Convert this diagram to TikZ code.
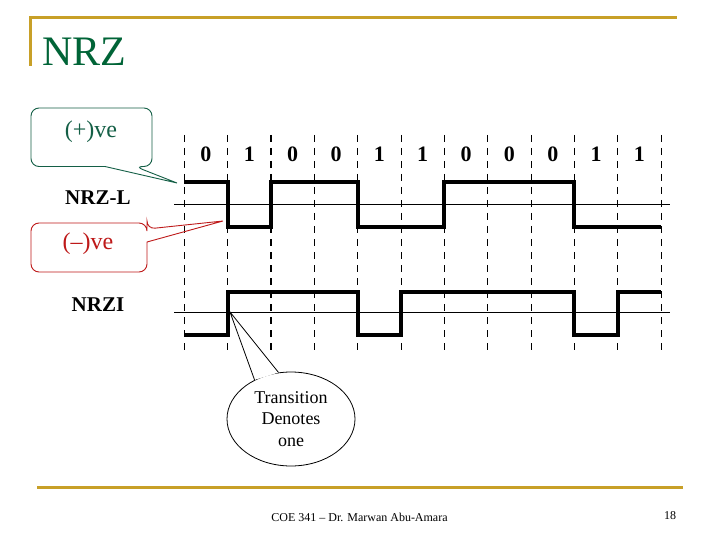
\documentclass[tikz,border=0pt]{standalone}
\usepackage{fontspec}
\setmainfont{Liberation Serif}
\usetikzlibrary{shapes.geometric}
\definecolor{gold}{RGB}{200,160,40}
\definecolor{titlegreen}{RGB}{0,100,55}
\definecolor{calloutgreen}{RGB}{20,95,70}
\definecolor{calloutred}{RGB}{190,25,25}
\tikzset{
  rule/.style={draw=gold, line width=3pt},
  gridline/.style={dash pattern=on 7pt off 6pt, line width=1.1pt},
  wave/.style={line width=4pt, line join=miter},
  axisline/.style={line width=0.9pt},
  bit/.style={font=\fontsize{22}{22}\selectfont\bfseries, inner sep=0pt},
  sig/.style={font=\fontsize{21}{21}\selectfont\bfseries, inner sep=0pt, anchor=west},
  foot/.style={font=\fontsize{12}{12}\selectfont, inner sep=0pt},
}
\begin{document}
\begin{tikzpicture}[x=1pt,y=-1pt]
\fill[white] (0,0) rectangle (720,540);
\useasboundingbox (0,0) rectangle (720,540);
% title rules
\draw[rule] (30,66) -- (30,18) -- (677,18);
\draw[rule] (37,487) -- (683,487);
\node[anchor=base west, inner sep=0pt, text=titlegreen, font=\fontsize{42}{42}\selectfont] (title) at (42,65.5) {NRZ};
% dashed grid
\foreach \i/\w in {0/1.1,1/1.1,2/1.9,3/1.1,4/1.1,5/1.1,6/1.1,7/1.1,8/1.1,9/1.9,10/1.1,11/1.1}{
  \pgfmathsetmacro\xx{184.3+43.35*\i}
  \draw[gridline, line width=\w pt] (\xx,135) -- (\xx,353);
}
% bits
\foreach \b [count=\i from 0] in {0,1,0,0,1,1,0,0,0,1,1}{
  \node[bit] (b\i) at ({184.3+43.35*\i+21.675},154) {\b};
}
% axes
\draw[axisline] (174,204) -- (670,204);
\draw[axisline] (174,312.3) -- (670,312.3);
% NRZ-L
\draw[wave] (184.3,182.3) -- (227.7,182.3) -- (227.7,226.7) -- (271,226.7) -- (271,182.3)
  -- (357.7,182.3) -- (357.7,226.7) -- (444.3,226.7) -- (444.3,182.3) -- (574.3,182.3)
  -- (574.3,226.7) -- (661,226.7);
% NRZI
\draw[wave] (184.3,335) -- (227.7,335) -- (227.7,291.7) -- (357.7,291.7) -- (357.7,335)
  -- (401,335) -- (401,291.7) -- (574.3,291.7) -- (574.3,335) -- (617.7,335)
  -- (617.7,291.7) -- (661,291.7);
\node[sig] (nrzl) at (65,198) {NRZ-L};
\node[sig] (nrzi) at (71.5,305) {NRZI};
% (+)ve callout
\coordinate (gtip) at (177,183);
\draw[calloutgreen, line width=0.9pt, rounded corners=8pt]
  (31,140) -- (31,108) -- (152,108) -- (152,166.5) -- (135,166.5) [sharp corners] -- (gtip)
  -- (105,166.5) [rounded corners=8pt] -- (31,166.5) -- cycle;
\node[text=calloutgreen, font=\fontsize{24}{24}\selectfont, inner sep=0pt] (pos) at (91,131.5) {(+)ve};
% (-)ve callout
\coordinate (rtip) at (223,221);
\draw[calloutred, line width=0.9pt, rounded corners=8pt]
  (31,247) -- (31,223) -- (147,223) -- (147,229) [sharp corners] -- (rtip)
  -- (147,242) [rounded corners=8pt] -- (147,272) -- (31,272) -- cycle;
\node[text=calloutred, font=\fontsize{24}{24}\selectfont, inner sep=0pt] (neg) at (88,244) {(–)ve};
% Transition callout
\node[ellipse, draw, line width=0.8pt, fill=white, minimum width=128pt, minimum height=94pt, inner sep=0pt,
  align=center, font=\fontsize{18}{21.7}\selectfont] (trans) at (291,419) {Transition\\Denotes\\one};
\coordinate (ttip) at (230,312);
\fill[white] (trans.133) -- (ttip) -- (trans.105) -- cycle;
\draw[line width=0.8pt] (trans.133) -- (ttip) -- (trans.105);
% footer
\node[foot] (footer) at (359.5,517) {COE 341 – Dr. Marwan Abu-Amara};
\node[foot] (page) at (670,516) {18};
\end{tikzpicture}
\end{document}
